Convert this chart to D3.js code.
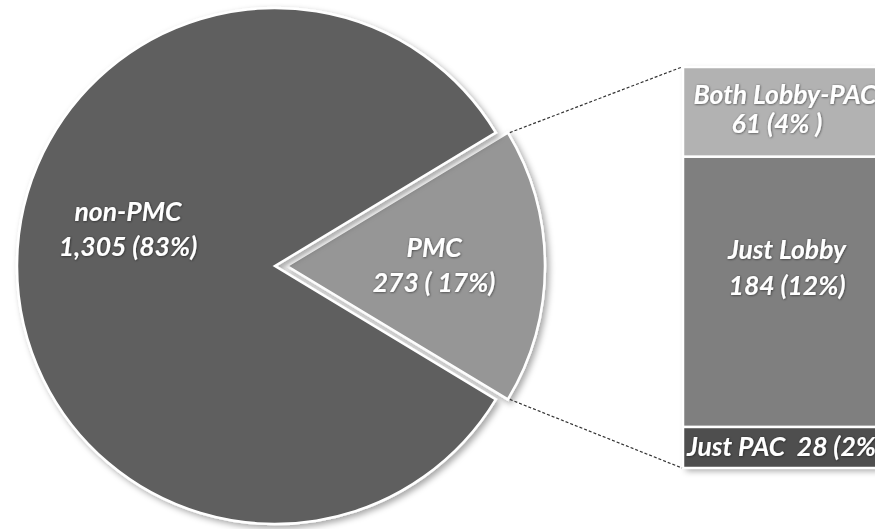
<!DOCTYPE html>
<html>
<head>
<meta charset="utf-8">
<script src="https://cdn.jsdelivr.net/npm/d3@7"></script>
<style>
  html, body { margin: 0; padding: 0; background: #fff; overflow: hidden; }
  svg { display: block; }
  .lbl { font-family: Lato, 'Open Sans', sans-serif; font-weight: 700; font-style: italic; fill: #fff; white-space: pre; }
</style>
</head>
<body>
<div id="chart"></div>
<script>
// pie data
const pieNames = ['PMC', 'non-PMC']
const pieValues = [273, 1305]
const pieValueText = ['273 ( 17%)', '1,305 (83%)']
const pieColors = ['#969696', '#5f5f5f']

// breakdown of the PMC slice
const barNames = ['Just PAC', 'Just Lobby', 'Both Lobby-PAC']
const barValues = [28, 184, 61]
const barLabelLines = [['Just PAC  28 (2%)'], ['Just Lobby', '184 (12%)'], ['Both Lobby-PAC', '61 (4% )']]
const barColors = ['#4e4e4e', '#7f7f7f', '#b2b2b2']

const width = 875
const height = 529
const cx = 275
const cy = 266
const radius = 258
const explode = 12
const fontSize = 26.5

const svg = d3.select('#chart')
  .append('svg')
  .attr('width', width)
  .attr('height', height)

const defs = svg.append('defs')
defs.append('filter')
  .attr('id', 'shadow')
  .attr('x', '-10%').attr('y', '-10%').attr('width', '130%').attr('height', '130%')
  .append('feDropShadow')
  .attr('dx', 3).attr('dy', 3).attr('stdDeviation', 3)
  .attr('flood-color', '#000').attr('flood-opacity', 0.35)
defs.append('filter')
  .attr('id', 'txtglow')
  .append('feDropShadow')
  .attr('dx', 0.5).attr('dy', 0.5).attr('stdDeviation', 1)
  .attr('flood-color', '#000').attr('flood-opacity', 0.6)

// PMC slice centred on the right-hand side
const half = Math.PI * pieValues[0] / d3.sum(pieValues)
const pie = d3.pie()
  .sort(null)
  .startAngle(Math.PI / 2 - half)
  .endAngle(Math.PI / 2 - half + 2 * Math.PI)
const arcs = pie(pieValues)
const arc = d3.arc().innerRadius(0).outerRadius(radius)

const offsetOf = (d, i) => {
  if (i !== 0) return [0, 0]
  const a = (d.startAngle + d.endAngle) / 2
  return [explode * Math.sin(a), -explode * Math.cos(a)]
}

const pieG = svg.append('g').attr('transform', `translate(${cx},${cy})`)
pieG.selectAll('path')
  .data(arcs)
  .join('path')
  .attr('transform', (d, i) => `translate(${offsetOf(d, i)})`)
  .attr('d', arc)
  .attr('fill', (d, i) => pieColors[i])
  .attr('stroke', '#fff')
  .attr('stroke-width', 2.5)
  .attr('stroke-linejoin', 'miter')
  .attr('filter', 'url(#shadow)')

// pie labels (label arc for placement)
const labelShift = [[0, -9], [0, -45]] // small nudges from centroid
const labelArc = d3.arc().innerRadius(radius * 0.57).outerRadius(radius * 0.57)
pieG.selectAll('text.pie-lbl')
  .data(arcs)
  .join('text')
  .classed('lbl', true)
  .classed('pie-lbl', true)
  .attr('filter', 'url(#txtglow)')
  .attr('text-anchor', 'middle')
  .attr('font-size', fontSize)
  .each(function (d, i) {
    const c = labelArc.centroid(d)
    const o = offsetOf(d, i)
    const x = c[0] + o[0] + labelShift[i][0]
    const y = c[1] + o[1] + labelShift[i][1]
    const t = d3.select(this)
    t.append('tspan').attr('x', x).attr('y', y).text(pieNames[i])
    t.append('tspan').attr('x', x).attr('y', y + 35).text(pieValueText[i])
  })

// stacked bar
const barX = 683
const barW = 204
const barTop = 67
const barBottom = 468
const yScale = d3.scaleLinear()
  .domain([0, d3.sum(barValues)])
  .range([barBottom, barTop])
const cum = d3.cumsum(barValues)
const segs = barValues.map((v, i) => ({ v, i, y0: cum[i] - v, y1: cum[i] }))

const barG = svg.append('g')
barG.append('rect')
  .attr('x', barX).attr('y', yScale(d3.sum(barValues)))
  .attr('width', barW).attr('height', yScale(0) - yScale(d3.sum(barValues)))
  .attr('fill', '#fff')
  .attr('filter', 'url(#shadow)')
barG.selectAll('rect.seg')
  .data(segs)
  .join('rect')
  .classed('seg', true)
  .attr('x', barX)
  .attr('y', d => yScale(d.y1))
  .attr('width', barW)
  .attr('height', d => yScale(d.y0) - yScale(d.y1))
  .attr('fill', d => barColors[d.i])
  .attr('stroke', '#fff')
  .attr('stroke-width', 2.5)

const barShift = [9, -33, -8]
const barGap = [0, 36, 29]
barG.selectAll('text.bar-lbl')
  .data(segs)
  .join('text')
  .classed('lbl', true)
  .classed('bar-lbl', true)
  .attr('filter', 'url(#txtglow)')
  .attr('text-anchor', 'middle')
  .attr('font-size', fontSize)
  .each(function (d) {
    const mid = (yScale(d.y0) + yScale(d.y1)) / 2 + barShift[d.i]
    const t = d3.select(this)
    barLabelLines[d.i].forEach((line, k) => {
      t.append('tspan')
        .attr('x', barX + barW / 2 + (d.i === 1 ? 2 : 0) - (d.i === 2 && k === 1 ? 8 : 0))
        .attr('y', mid + k * barGap[d.i])
        .text(line)
    })
  })

// connector lines from the PMC slice corners to the bar
const pmc = arcs[0]
const po = offsetOf(pmc, 0)
const corner = a => [cx + po[0] + radius * Math.sin(a), cy + po[1] - radius * Math.cos(a)]
const links = [
  [corner(pmc.startAngle), [barX, yScale(d3.sum(barValues))]],
  [corner(pmc.endAngle), [barX, yScale(0)]]
]
svg.selectAll('line.link')
  .data(links)
  .join('line')
  .classed('link', true)
  .attr('x1', d => d[0][0] + 2)
  .attr('y1', d => d[0][1])
  .attr('x2', d => d[1][0] - 1)
  .attr('y2', d => d[1][1])
  .attr('stroke', '#333')
  .attr('stroke-width', 1.2)
  .attr('stroke-dasharray', '3,2')
</script>
</body>
</html>
